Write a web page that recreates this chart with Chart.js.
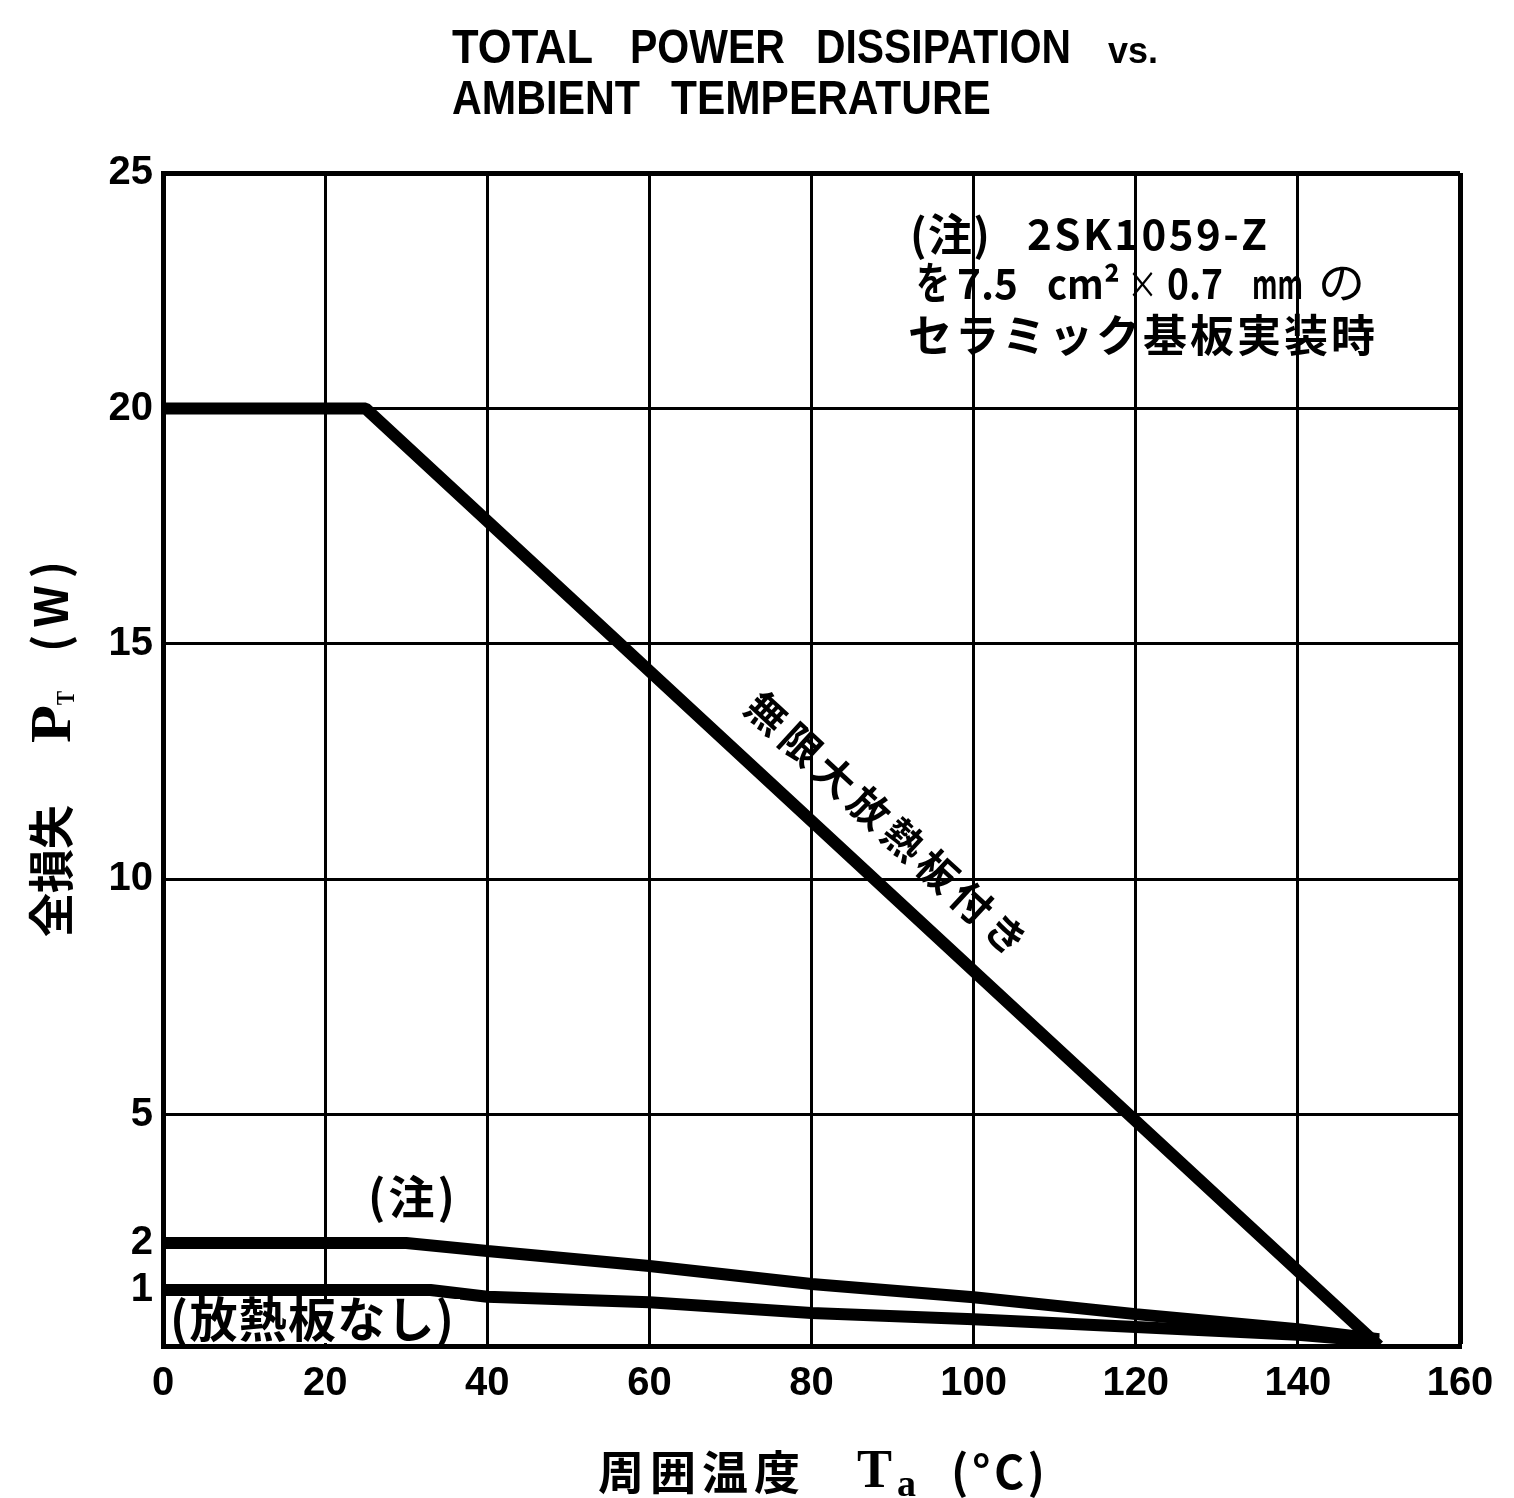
<!DOCTYPE html>
<html>
<head>
<meta charset="utf-8">
<title>Total Power Dissipation vs. Ambient Temperature</title>
<script src="https://cdn.jsdelivr.net/npm/chart.js@4.4.1/dist/chart.umd.min.js"></script>
<style>
  html, body { margin: 0; padding: 0; background: #fff; }
  #wrap { width: 1514px; height: 1498px; }
</style>
</head>
<body>
<div id="wrap"><canvas id="c" width="1514" height="1498"></canvas></div>
<script>
// Ambient temperature Ta (°C) and total power dissipation PT (W)
const tempHeatSink  = [0, 25, 150];
const powerHeatSink = [20, 20, 0];

const tempCeramic  = [0, 30, 40, 60, 80, 100, 120, 140, 150];
const powerCeramic = [2, 2, 1.83, 1.51, 1.13, 0.87, 0.57, 0.3, 0.12];

const tempNoSink  = [0, 33, 40, 60, 80, 100, 120, 140, 150];
const powerNoSink = [1, 1, 0.88, 0.78, 0.59, 0.48, 0.34, 0.2, 0.08];

const tempTicks  = [0, 20, 40, 60, 80, 100, 120, 140, 160];
const powerTicks = [0, 1, 2, 5, 10, 15, 20, 25];

// Power axis: expanded low range (0–5 W), linear from 5 W upward
const breakValues = [0, 1, 2, 5, 25];
const breakFracs  = [0, 0.0477, 0.0878, 0.197, 1];

function valueToFrac(v) {
  for (let i = 1; i < breakValues.length; i++) {
    if (v <= breakValues[i] || i === breakValues.length - 1) {
      const a = breakValues[i - 1], b = breakValues[i];
      return breakFracs[i - 1] + (v - a) / (b - a) * (breakFracs[i] - breakFracs[i - 1]);
    }
  }
  return 0;
}
function fracToValue(f) {
  for (let i = 1; i < breakFracs.length; i++) {
    if (f <= breakFracs[i] || i === breakFracs.length - 1) {
      const a = breakFracs[i - 1], b = breakFracs[i];
      return breakValues[i - 1] + (f - a) / (b - a) * (breakValues[i] - breakValues[i - 1]);
    }
  }
  return 0;
}

class BreakLinearScale extends Chart.LinearScale {
  static id = 'breaklinear';
  static defaults = Chart.LinearScale.defaults;
  getPixelForValue(value) {
    if (value === null || value === undefined) return NaN;
    return this.getPixelForDecimal(valueToFrac(value));
  }
  getValueForPixel(pixel) {
    return fracToValue(this.getDecimalForPixel(pixel));
  }
}
Chart.register(BreakLinearScale);

const toPoints = (xs, ys) => xs.map((x, i) => ({ x: x, y: ys[i] }));

// Draws text stretched or letter-spaced to fill [x0, x1]
function drawFit(ctx, text, x0, x1, baseline, font) {
  ctx.font = font;
  const chars = [...text];
  const widths = chars.map(ch => ctx.measureText(ch).width);
  const total = widths.reduce((a, b) => a + b, 0);
  const target = x1 - x0;
  if (chars.length === 1 || total >= target) {
    ctx.save();
    ctx.translate(x0, baseline);
    ctx.scale(target / total, 1);
    ctx.fillText(text, 0, 0);
    ctx.restore();
  } else {
    const gap = (target - total) / (chars.length - 1);
    let x = x0;
    chars.forEach((ch, i) => { ctx.fillText(ch, x, baseline); x += widths[i] + gap; });
  }
}

const JP = '"Noto Sans CJK JP", "Noto Sans CJK SC", sans-serif';
const SANS = '"Liberation Sans", Arial, sans-serif';
const SERIF = '"Liberation Serif", "DejaVu Serif", serif';

const annotations = {
  id: 'annotations',
  afterDatasetsDraw(chart) {
    const ctx = chart.ctx;
    ctx.save();
    ctx.fillStyle = '#000';
    ctx.textAlign = 'left';
    ctx.textBaseline = 'alphabetic';

    // Title
    const tf = 'bold 48px ' + SANS;
    drawFit(ctx, 'TOTAL', 452, 597, 63, tf);
    drawFit(ctx, 'POWER', 630, 785, 63, tf);
    drawFit(ctx, 'DISSIPATION', 816, 1077, 63, tf);
    drawFit(ctx, 'vs.', 1108, 1158, 63, 'bold 36px ' + SANS);
    drawFit(ctx, 'AMBIENT', 452, 640, 114, tf);
    drawFit(ctx, 'TEMPERATURE', 671, 994, 114, tf);

    // Mounting note
    const nf = 'bold 44px ' + JP;
    drawFit(ctx, '(注)', 910, 990, 251, nf);
    drawFit(ctx, '2SK1059-Z', 1027, 1267, 250, 'bold 42px ' + JP);
    drawFit(ctx, 'を', 916, 950, 299, nf);
    drawFit(ctx, '7.5', 957, 1018, 299, 'bold 42px ' + JP);
    drawFit(ctx, 'cm²', 1047, 1120, 299, 'bold 40px ' + JP);
    drawFit(ctx, '×', 1127, 1158, 298, '38px ' + JP);
    drawFit(ctx, '0.7', 1167, 1223, 299, 'bold 42px ' + JP);
    drawFit(ctx, 'mm', 1252, 1303, 299, 'bold 40px ' + JP);
    drawFit(ctx, 'の', 1318, 1365, 299, '44px ' + JP);
    drawFit(ctx, 'セラミック基板実装時', 908, 1375, 352, nf);

    // Label along the heat-sink derating line
    const a0 = chart.scales.x.getPixelForValue(tempHeatSink[1]);
    const b0 = chart.scales.y.getPixelForValue(powerHeatSink[1]);
    const a1 = chart.scales.x.getPixelForValue(tempHeatSink[2]);
    const b1 = chart.scales.y.getPixelForValue(powerHeatSink[2]);
    const ang = Math.atan2(b1 - b0, a1 - a0);
    ctx.save();
    ctx.translate(767, 713);
    ctx.rotate(ang);
    ctx.font = 'bold 40px ' + JP;
    ctx.textAlign = 'center';
    ctx.textBaseline = 'middle';
    [...'無限大放熱板付き'].forEach((ch, i) => ctx.fillText(ch, i * 46.5, 0));
    ctx.restore();

    // Curve labels
    drawFit(ctx, '(注)', 368, 455, 1214, 'bold 46px ' + JP);
    ctx.fillStyle = '#fff';
    ctx.fillRect(168, 1299, 292, 44);
    ctx.fillStyle = '#000';
    drawFit(ctx, '(放熱板なし)', 170, 454, 1337, 'bold 48px ' + JP);

    // X axis title
    drawFit(ctx, '周囲温度', 598, 800, 1489, 'bold 46px ' + JP);
    drawFit(ctx, 'T', 857, 892, 1487, 'bold 54px ' + SERIF);
    drawFit(ctx, 'a', 897, 916, 1496, 'bold 38px ' + SERIF);
    drawFit(ctx, '(°C)', 951, 1045, 1489, 'bold 46px ' + JP);

    // Y axis title (rotated)
    ctx.save();
    ctx.translate(50, 0);
    ctx.rotate(-Math.PI / 2);
    drawFit(ctx, '全損失', -937, -805, 18, 'bold 46px ' + JP);
    drawFit(ctx, 'P', -743, -705, 20, 'bold 58px ' + SERIF);
    drawFit(ctx, 'T', -705, -691, 24, 'bold 26px ' + SERIF);
    drawFit(ctx, '(W)', -652, -561, 18, 'bold 46px ' + JP);
    ctx.restore();

    ctx.restore();
  }
};

const lineStyle = {
  borderColor: '#000',
  borderWidth: 12,
  pointRadius: 0,
  tension: 0,
  fill: false,
  clip: 0,
  borderJoinStyle: 'bevel'
};

new Chart(document.getElementById('c'), {
  type: 'line',
  data: {
    datasets: [
      Object.assign({ label: '無限大放熱板付き', data: toPoints(tempHeatSink, powerHeatSink) }, lineStyle),
      Object.assign({ label: '(注)', data: toPoints(tempCeramic, powerCeramic) }, lineStyle),
      Object.assign({ label: '(放熱板なし)', data: toPoints(tempNoSink, powerNoSink) }, lineStyle)
    ]
  },
  options: {
    responsive: false,
    animation: false,
    devicePixelRatio: 1,
    layout: { padding: { top: 173, right: 54, bottom: 0, left: 0 } },
    plugins: { legend: { display: false }, tooltip: { enabled: false } },
    scales: {
      x: {
        type: 'linear',
        min: tempTicks[0],
        max: tempTicks[tempTicks.length - 1],
        afterBuildTicks: s => { s.ticks = tempTicks.map(v => ({ value: v })); },
        ticks: {
          color: '#000',
          font: { family: 'Liberation Sans', weight: 'bold', size: 40 },
          padding: 14,
          maxRotation: 0,
          autoSkip: false
        },
        grid: {
          color: '#000',
          lineWidth: c => (c.tick && c.tick.value === 160 ? 5 : 3),
          drawTicks: false
        },
        border: { color: '#000', width: 5 },
        afterFit: s => { s.height = 152; }
      },
      y: {
        type: 'breaklinear',
        min: powerTicks[0],
        max: powerTicks[powerTicks.length - 1],
        afterBuildTicks: s => { s.ticks = powerTicks.map(v => ({ value: v })); },
        ticks: {
          color: '#000',
          font: { family: 'Liberation Sans', weight: 'bold', size: 40 },
          padding: 10,
          autoSkip: false,
          callback: v => (v === 0 ? '' : String(v))
        },
        grid: {
          color: c => (c.tick && c.tick.value % 5 !== 0 ? 'rgba(0,0,0,0)' : '#000'),
          lineWidth: c => (c.tick && c.tick.value === 25 ? 5 : 3),
          drawTicks: false
        },
        border: { color: '#000', width: 5 },
        afterFit: s => { s.height = s.height; s.width = 163; }
      }
    }
  },
  plugins: [annotations]
});
</script>
</body>
</html>
